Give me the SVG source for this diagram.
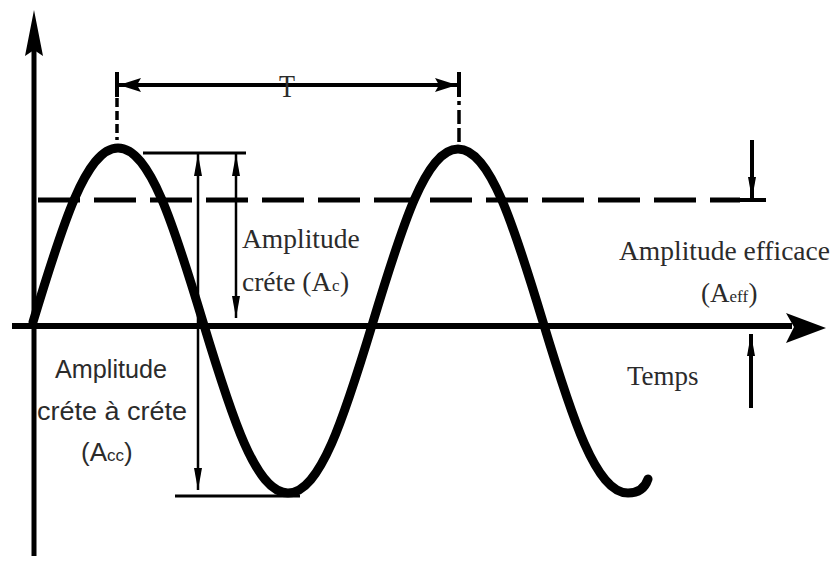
<svg xmlns="http://www.w3.org/2000/svg" width="837" height="561" viewBox="0 0 837 561">
<style>
.ser{font-family:"Liberation Serif","Times New Roman",serif;fill:#2b2b2b}
.san{font-family:"Liberation Sans",Arial,sans-serif;fill:#2b2b2b}
.thin{stroke:#000;stroke-width:2.5;fill:none}
</style>
<defs>
<marker id="ah" viewBox="0 0 22 8" markerWidth="22" markerHeight="8" refX="22" refY="4" orient="auto-start-reverse" markerUnits="userSpaceOnUse">
<path d="M0,0 L22,4 L0,8 Z" fill="#000"/>
</marker>
<marker id="ahT" viewBox="0 0 22 14" markerWidth="22" markerHeight="14" refX="22" refY="7" orient="auto-start-reverse" markerUnits="userSpaceOnUse">
<path d="M0,0 L22,7 L0,14 L4,7 Z" fill="#000"/>
</marker>
</defs>
<rect width="837" height="561" fill="#fff"/>

<g id="axes">
<line x1="34" y1="50" x2="34" y2="556" stroke="#000" stroke-width="5"/>
<polygon points="34,10 43,56 34,50 25,56" fill="#000"/>
<line x1="12" y1="326" x2="792" y2="326" stroke="#000" stroke-width="6"/>
<polygon points="826,328 786,343 794,327 786,313" fill="#000"/>
</g>

<g id="sine">
<path d="M33,322 C62,226 86,148 118,148 C150,148 174,226 203,322 C232,418 256,493 288,493 C320,493 344,418 373,322 C402,226 426,149 458,149 C490,149 514,226 543,322 C572,418 596,493 628,493 C638,493 645,488 648,479" fill="none" stroke="#000" stroke-width="9" stroke-linecap="round"/>
</g>

<g id="connectors">
<line x1="38" y1="200" x2="740" y2="200" stroke="#000" stroke-width="5" stroke-dasharray="42 14"/>
<line x1="738" y1="200" x2="766" y2="200" stroke="#000" stroke-width="4"/>
<line x1="143" y1="153" x2="246" y2="153" stroke="#000" stroke-width="3"/>
<line x1="175" y1="496" x2="300" y2="496" stroke="#000" stroke-width="3"/>
<line class="thin" x1="198" y1="154" x2="198" y2="490" marker-start="url(#ah)" marker-end="url(#ah)"/>
<line class="thin" x1="236" y1="154" x2="236" y2="318" marker-start="url(#ah)" marker-end="url(#ah)"/>
<line x1="752" y1="140" x2="752" y2="199" stroke="#000" stroke-width="4" marker-end="url(#ah)"/>
<line x1="751" y1="408" x2="751" y2="334" stroke="#000" stroke-width="4" marker-end="url(#ah)"/>
<line x1="119" y1="85" x2="457" y2="85" stroke="#000" stroke-width="4" marker-start="url(#ahT)" marker-end="url(#ahT)"/>
<line x1="117" y1="72" x2="117" y2="97" stroke="#000" stroke-width="4"/>
<line x1="459" y1="72" x2="459" y2="97" stroke="#000" stroke-width="4"/>
<line x1="117" y1="98" x2="117" y2="140" stroke="#000" stroke-width="3.5" stroke-dasharray="9 4"/>
<line x1="459" y1="101" x2="459" y2="142" stroke="#000" stroke-width="3.5" stroke-dasharray="4 5 14 4 14"/>
</g>

<g id="label-T">
<rect x="279" y="76" width="16" height="4" fill="#fff"/>
<text class="ser" x="287" y="97" font-size="32" text-anchor="middle" textLength="16" lengthAdjust="spacingAndGlyphs">T</text>
</g>

<g id="label-Ac">
<text class="ser" x="242" y="248" font-size="27.5">Amplitude</text>
<text class="ser" x="242" y="291" font-size="27.5">créte (A</text>
<text class="ser" x="332" y="291" font-size="17">c</text>
<text class="ser" x="340" y="291" font-size="27.5">)</text>
</g>

<g id="label-Aeff">
<text class="ser" x="619" y="260" font-size="27.5">Amplitude efficace</text>
<text class="ser" x="701" y="302" font-size="27">(A</text>
<text class="ser" x="729.5" y="302" font-size="17">eff</text>
<text class="ser" x="748.5" y="302" font-size="27">)</text>
</g>

<g id="label-Temps">
<text class="ser" x="627" y="385" font-size="27">Temps</text>
</g>

<g id="label-Acc">
<text class="san" x="111" y="378" font-size="26" text-anchor="middle" textLength="112" lengthAdjust="spacingAndGlyphs">Amplitude</text>
<text class="san" x="112" y="420" font-size="26" text-anchor="middle" textLength="150" lengthAdjust="spacingAndGlyphs">créte à créte</text>
<text class="san" x="81" y="461" font-size="26">(A</text>
<text class="san" x="107" y="461" font-size="17">cc</text>
<text class="san" x="124" y="461" font-size="26">)</text>
</g>
</svg>
